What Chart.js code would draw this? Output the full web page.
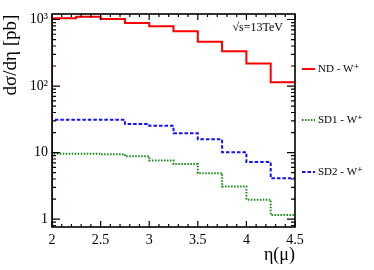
<!DOCTYPE html>
<html>
<head>
<meta charset="utf-8">
<script src="https://cdn.jsdelivr.net/npm/chart.js@4.4.1/dist/chart.umd.min.js"></script>
<style>
  html, body { margin: 0; padding: 0; background: #fff; }
</style>
</head>
<body>
<canvas id="chart" width="374" height="270"></canvas>
<script>
// bin edges in eta(mu) and cross sections per bin [pb]
const binEdges = [2, 2.25, 2.5, 2.75, 3, 3.25, 3.5, 3.75, 4, 4.25, 4.5];
const ndW  = [1040, 1100, 1015, 885, 790, 665, 465, 333, 219, 114];
const sd1W = [9.6, 9.6, 9.4, 8.8, 7.6, 6.7, 4.9, 3.1, 1.96, 1.15];
const sd2W = [31, 31, 31, 26.8, 25.3, 19.5, 15.8, 10.1, 7.2, 4.1];

const seriesLabels = ['ND - W\u207A', 'SD1 - W\u207A', 'SD2 - W\u207A'];
const seriesColors = ['#ff0000', '#138a13', '#1010ff'];
const seriesDash = [[], [1.5, 1.5], [3.5, 2]];

const xTicks = [2, 2.5, 3, 3.5, 4, 4.5];
const yTicks = [1, 10, 100, 1000];
const yTickLabels = ['1', '10', '10\u00B2', '10\u00B3'];

const X_MIN = 2, X_MAX = 4.5;
const Y_MIN = 0.76, Y_MAX = 1210;
const SERIF = '"Liberation Serif", "DejaVu Serif", serif';

// turn bin contents into step points (with a drop to the axis at the left edge)
function histPoints(vals) {
  const pts = [{ x: binEdges[0], y: Y_MIN }];
  vals.forEach((v, i) => pts.push({ x: binEdges[i], y: v }));
  pts.push({ x: binEdges[binEdges.length - 1], y: vals[vals.length - 1] });
  return pts;
}

const allSeries = [ndW, sd1W, sd2W];

const framePlugin = {
  id: 'frame',
  afterDraw(chart) {
    const ctx = chart.ctx;
    const a = chart.chartArea;
    const xs = chart.scales.x;
    const ys = chart.scales.y;
    ctx.save();

    // minor/major ticks on all four sides, pointing inwards
    ctx.strokeStyle = '#000';
    ctx.lineWidth = 1.2;
    ctx.beginPath();
    for (let i = 0; i <= 25; i++) {
      const v = X_MIN + i * 0.1;
      const px = xs.getPixelForValue(v);
      const len = (i % 5 === 0) ? 6 : 3;
      ctx.moveTo(px, a.bottom); ctx.lineTo(px, a.bottom - len);
      ctx.moveTo(px, a.top); ctx.lineTo(px, a.top + len);
    }
    for (let dec = 0.1; dec < 10000; dec *= 10) {
      for (let m = 1; m <= 9; m++) {
        const v = dec * m;
        if (v < Y_MIN || v > Y_MAX) continue;
        const py = ys.getPixelForValue(v);
        const len = (m === 1) ? 8 : 4;
        ctx.moveTo(a.left, py); ctx.lineTo(a.left + len, py);
        ctx.moveTo(a.right, py); ctx.lineTo(a.right - len, py);
      }
    }
    ctx.stroke();

    // frame
    ctx.lineWidth = 1.6;
    ctx.strokeRect(a.left, a.top, a.right - a.left, a.bottom - a.top);

    // y title
    ctx.fillStyle = '#000';
    ctx.font = '19px ' + SERIF;
    ctx.save();
    ctx.translate(16, 55);
    ctx.rotate(-Math.PI / 2);
    ctx.textAlign = 'center';
    ctx.textBaseline = 'alphabetic';
    ctx.fillText('d\u03C3/d\u03B7 [pb]', 0, 0);
    ctx.restore();

    // x title
    ctx.font = '18px ' + SERIF;
    ctx.textAlign = 'right';
    ctx.textBaseline = 'alphabetic';
    ctx.fillText('\u03B7(\u03BC)', a.right, 260);

    // energy label
    ctx.font = '12px ' + SERIF;
    ctx.fillText('\u221As=13TeV', a.right - 12, 31);

    // legend on the right
    const legY = [69, 120, 172];
    ctx.font = '11px ' + SERIF;
    ctx.textAlign = 'left';
    ctx.textBaseline = 'middle';
    seriesLabels.forEach((lab, i) => {
      ctx.strokeStyle = seriesColors[i];
      ctx.lineWidth = 2;
      ctx.setLineDash(seriesDash[i]);
      ctx.beginPath();
      ctx.moveTo(302, legY[i]);
      ctx.lineTo(315, legY[i]);
      ctx.stroke();
      ctx.setLineDash([]);
      ctx.fillStyle = '#000';
      ctx.fillText(lab, 318, legY[i]);
    });
    ctx.restore();
  }
};

new Chart(document.getElementById('chart'), {
  type: 'line',
  data: {
    datasets: allSeries.map((vals, i) => ({
      label: seriesLabels[i],
      data: histPoints(vals),
      borderColor: seriesColors[i],
      borderWidth: 2,
      borderDash: seriesDash[i],
      stepped: 'before',
      pointRadius: 0,
      fill: false
    }))
  },
  options: {
    responsive: false,
    animation: false,
    events: [],
    layout: { padding: { top: 14, right: 79, left: 0, bottom: 0 } },
    plugins: { legend: { display: false }, tooltip: { enabled: false } },
    scales: {
      x: {
        type: 'linear',
        min: X_MIN,
        max: X_MAX,
        grid: { display: false, drawTicks: false },
        border: { display: false },
        afterBuildTicks: (scale) => { scale.ticks = xTicks.map(v => ({ value: v })); },
        afterFit: (scale) => { scale.height = 43; },
        ticks: {
          color: '#000',
          padding: 5,
          maxRotation: 0,
          font: { family: SERIF, size: 14 },
          callback: (v) => String(v)
        }
      },
      y: {
        type: 'logarithmic',
        min: Y_MIN,
        max: Y_MAX,
        grid: { display: false, drawTicks: false },
        border: { display: false },
        afterBuildTicks: (scale) => { scale.ticks = yTicks.map(v => ({ value: v })); },
        afterFit: (scale) => { scale.width = 52; },
        ticks: {
          color: '#000',
          padding: 4,
          font: { family: SERIF, size: 14 },
          callback: (v) => yTickLabels[yTicks.indexOf(v)]
        }
      }
    }
  },
  plugins: [framePlugin]
});
</script>
</body>
</html>
